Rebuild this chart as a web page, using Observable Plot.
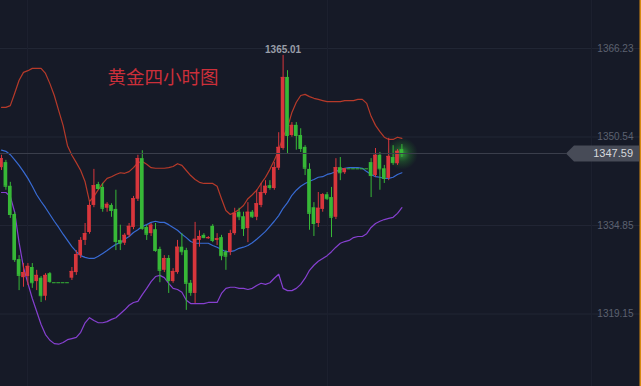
<!DOCTYPE html>
<html><head><meta charset="utf-8">
<script src="https://cdn.jsdelivr.net/npm/d3@7"></script>
<script src="https://cdn.jsdelivr.net/npm/@observablehq/plot@0.6"></script>
<style>html,body{margin:0;padding:0;background:#161a27;overflow:hidden}#chart{width:641px;height:386px}</style>
</head><body><div id="chart"></div>
<script>
const title = "黄金四小时图";
const open  = [1345.1,1346.0,1341.8,1336.8,1328.8,1325.6,1325.8,1327.4,1324.9,1325.5,1322.3,1326.3,1324.7,1324.7,1324.7,1324.7,1325.5,1326.5,1329.5,1332.2,1333.6,1338.4,1342.1,1341.6,1337.9,1338.4,1337.7,1332.2,1331.7,1333.1,1334.5,1339.5,1346.7,1334.5,1333.4,1334.1,1330.6,1326.9,1329.0,1324.9,1326.5,1331.0,1330.4,1324.6,1322.8,1332.2,1333.1,1332.5,1334.7,1332.2,1332.7,1330.1,1330.1,1333.4,1337.2,1336.4,1334.3,1337.2,1336.3,1338.4,1340.5,1341.9,1341.4,1345.0,1348.5,1361.1,1350.8,1352.6,1350.8,1348.7,1344.8,1338.0,1335.2,1337.7,1340.3,1339.8,1336.3,1345.1,1344.2,1344.9,1344.9,1344.9,1344.9,1344.9,1346.0,1343.7,1347.3,1344.9,1343.2,1346.9,1345.8,1348.3];
const high  = [1347.3,1346.4,1342.5,1337.2,1329.5,1328.1,1328.1,1328.1,1326.9,1325.8,1326.3,1326.5,1324.7,1324.7,1324.7,1324.7,1327.4,1330.4,1332.7,1335.2,1338.9,1344.8,1342.5,1342.3,1338.9,1338.7,1341.1,1334.9,1333.4,1335.2,1340.0,1347.3,1348.1,1334.9,1335.2,1335.2,1331.0,1329.5,1329.5,1327.2,1332.2,1333.4,1330.8,1325.1,1335.4,1333.9,1333.4,1332.9,1335.0,1333.4,1333.1,1330.4,1334.0,1337.9,1337.9,1337.2,1338.9,1337.5,1341.1,1342.3,1342.8,1342.8,1346.0,1351.3,1365.01,1362.3,1353.1,1353.1,1352.0,1349.0,1345.8,1338.9,1340.7,1340.5,1340.7,1341.6,1346.7,1346.9,1344.8,1344.9,1344.9,1344.9,1344.9,1344.9,1346.7,1348.5,1347.8,1345.5,1350.3,1349.0,1348.3,1349.2];
const low   = [1344.6,1341.1,1336.1,1328.3,1323.3,1323.9,1324.2,1323.7,1323.3,1321.2,1321.5,1324.6,1324.7,1324.7,1324.7,1324.7,1325.1,1326.0,1329.0,1331.3,1333.3,1338.0,1341.1,1337.2,1337.2,1336.3,1330.4,1330.4,1331.3,1332.7,1334.1,1339.1,1334.0,1332.2,1332.9,1330.1,1324.7,1326.5,1322.8,1324.6,1326.2,1329.5,1319.8,1322.3,1321.0,1331.0,1332.5,1332.4,1331.8,1331.3,1328.6,1326.9,1329.5,1333.1,1335.7,1332.9,1331.8,1336.1,1335.7,1338.0,1340.2,1341.1,1341.1,1344.6,1348.2,1347.6,1350.5,1348.2,1347.8,1343.7,1334.0,1332.9,1334.5,1337.2,1339.3,1332.7,1335.9,1342.8,1343.9,1344.9,1344.9,1344.9,1344.9,1344.9,1339.8,1343.4,1341.1,1342.3,1342.8,1345.5,1345.5,1346.9];
const close = [1346.7,1341.8,1336.8,1328.8,1326.0,1326.5,1327.6,1324.7,1326.0,1322.4,1326.0,1324.9,1324.7,1324.7,1324.7,1324.7,1326.7,1329.7,1332.2,1333.4,1338.4,1341.9,1341.4,1337.9,1338.6,1337.5,1332.0,1331.7,1333.1,1334.7,1339.6,1346.7,1334.3,1333.3,1334.9,1330.4,1326.9,1329.0,1325.1,1326.7,1331.0,1330.2,1324.6,1323.0,1332.4,1332.9,1332.7,1332.7,1332.2,1332.5,1329.5,1329.4,1333.4,1337.0,1336.4,1334.3,1337.2,1336.4,1338.7,1340.7,1341.8,1341.6,1345.1,1348.7,1361.1,1350.8,1352.6,1350.8,1348.5,1345.0,1337.0,1335.2,1337.9,1340.3,1339.6,1336.3,1345.1,1344.2,1344.9,1344.9,1344.9,1344.9,1344.9,1344.9,1343.7,1347.3,1344.9,1343.2,1347.1,1346.0,1348.0,1347.59];
const upper = [1355.8,1355.8,1356.1,1358.3,1360.6,1362.0,1362.3,1362.7,1362.7,1362.7,1361.8,1360.0,1357.9,1355.2,1352.6,1349.0,1347.3,1346.0,1344.6,1342.6,1339.1,1340.0,1341.2,1342.3,1343.2,1343.5,1343.9,1344.2,1344.1,1344.4,1345.1,1346.0,1346.2,1345.7,1345.1,1345.0,1345.0,1345.0,1345.1,1345.3,1345.8,1345.5,1344.6,1343.7,1343.0,1342.5,1342.3,1342.3,1342.3,1341.8,1339.6,1337.5,1336.8,1337.2,1337.7,1338.4,1339.6,1340.3,1341.1,1342.3,1343.4,1344.8,1346.4,1348.2,1350.6,1352.2,1354.9,1356.7,1357.9,1358.1,1357.7,1357.4,1357.2,1357.0,1356.8,1356.8,1356.8,1356.8,1357.0,1357.0,1357.0,1357.2,1357.2,1356.5,1354.2,1352.6,1351.5,1350.5,1350.1,1350.1,1350.5,1350.3];
const middle = [1348.2,1348.0,1347.4,1346.5,1345.5,1344.4,1343.2,1341.8,1340.3,1339.1,1338.0,1336.8,1335.6,1334.5,1333.3,1332.2,1331.1,1330.2,1329.5,1329.2,1329.0,1329.0,1329.4,1329.9,1330.4,1331.0,1331.5,1331.8,1332.4,1332.9,1333.6,1334.1,1334.7,1335.0,1335.4,1335.6,1335.4,1335.4,1335.0,1334.5,1334.0,1333.3,1332.7,1332.0,1331.7,1331.7,1331.7,1331.7,1331.3,1331.0,1330.6,1330.2,1330.2,1330.4,1330.8,1331.0,1331.3,1331.8,1332.4,1333.1,1333.8,1334.7,1335.6,1336.6,1337.9,1338.9,1340.2,1341.1,1341.8,1342.3,1342.7,1343.0,1343.4,1343.5,1343.9,1344.1,1344.4,1344.8,1345.0,1345.1,1345.1,1345.1,1345.0,1344.4,1343.9,1343.5,1343.4,1343.2,1343.2,1343.4,1343.9,1344.2];
const lower = [1340.7,1340.7,1340.0,1337.2,1331.8,1327.4,1324.6,1321.9,1319.6,1317.3,1315.5,1314.5,1313.9,1313.8,1314.1,1314.6,1314.8,1315.0,1315.9,1317.6,1318.5,1318.0,1317.6,1317.6,1317.8,1318.2,1318.5,1319.2,1319.9,1320.7,1321.2,1321.4,1322.6,1323.7,1324.9,1325.8,1326.0,1325.6,1324.6,1323.7,1323.5,1323.0,1321.6,1321.0,1321.0,1321.0,1321.0,1321.2,1321.2,1321.2,1322.8,1323.7,1323.9,1323.9,1323.7,1323.7,1323.5,1323.7,1324.2,1324.6,1324.4,1324.7,1325.5,1326.2,1323.7,1323.3,1323.3,1323.7,1324.4,1325.5,1326.9,1327.8,1328.5,1329.0,1329.5,1330.2,1331.0,1331.7,1332.0,1332.2,1332.7,1332.9,1332.9,1333.4,1334.5,1335.2,1335.6,1335.9,1336.1,1336.3,1337.0,1338.0];
const yTicks = [1366.23, 1350.54, 1334.85, 1319.15];
const xGrid = [5.9, 74.1, 134.1];
const lastPrice = 1347.59;

const candles = open.map((o, i) => ({i, o, h: high[i], l: low[i], c: close[i], up: close[i] > o}));
const peak = candles.reduce((a, b) => (b.h > a.h ? b : a));
const last = candles[candles.length - 1];
const RED = "#d8363c", GREEN = "#37b837";
const col = d => d.up ? RED : GREEN;

function priceTag(index, scales, values, dimensions) {
  const y = Math.round(scales.y(lastPrice)) + 0.5;
  const W = dimensions.width, H = dimensions.height;
  const x0 = W - 75;
  const g = d3.create("svg:g");
  g.append("line").attr("x1", 0).attr("x2", x0).attr("y1", y).attr("y2", y).attr("stroke", "#3a3e4b").attr("stroke-width", 1);
  g.append("path").attr("d", `M${x0},${y}L${x0 + 8},${y - 8}H${W - 2}V${y + 8}H${x0 + 8}Z`).attr("fill", "#474b57");
  g.append("text").attr("x", W - 8).attr("y", y).attr("dy", "0.36em").attr("text-anchor", "end")
    .attr("fill", "#d6d8dc").attr("font-size", 11).attr("font-family", "Liberation Sans, Arial, sans-serif").text(lastPrice.toFixed(2));
  g.append("line").attr("x1", W - 0.75).attr("x2", W - 0.75).attr("y1", 0).attr("y2", H).attr("stroke", "#d88a12").attr("stroke-width", 1.5);
  return g.node();
}

const chart = Plot.plot({
  width: 641, height: 386, margin: 0,
  style: {background: "#161a27", fontFamily: "Liberation Sans, Arial, sans-serif"},
  x: {domain: [-0.227, 145.45], axis: null},
  y: {domain: [1306.3, 1374.74], axis: null},
  marks: [
    Plot.ruleY(yTicks, {stroke: "#222735", strokeWidth: 1}),
    Plot.ruleX(xGrid, {stroke: "#1d2130", strokeWidth: 1}),
    Plot.text(yTicks, {y: d => d, text: d => d.toFixed(2), frameAnchor: "right", dx: -8, textAnchor: "end", fill: "#5c6170", fontSize: 10}),
    Plot.line(upper, {x: (d, i) => i, y: d => d, stroke: "#b63a2a", strokeWidth: 1.2}),
    Plot.line(middle, {x: (d, i) => i, y: d => d, stroke: "#386bd4", strokeWidth: 1.2}),
    Plot.line(lower, {x: (d, i) => i, y: d => d, stroke: "#8640d0", strokeWidth: 1.2}),
    Plot.dot([last], {x: "i", y: "c", r: 16, fill: "url(#glow)", stroke: "none"}),
    Plot.ruleX(candles, {x: "i", y1: "l", y2: "h", stroke: col, strokeWidth: 1}),
    Plot.rect(candles, {x1: d => d.i - 0.42, x2: d => d.i + 0.42, y1: d => Math.min(d.o, d.c), y2: d => Math.max(d.o, d.c), fill: col}),
    Plot.ruleY(candles, {y: "c", x1: d => d.i - 0.42, x2: d => d.i + 0.42, stroke: col, strokeWidth: 1}),
    Plot.text([peak], {x: "i", y: "h", text: d => d.h.toFixed(2), dy: -6, fill: "#9a9ea8", fontSize: 10, fontWeight: "bold"}),
    Plot.text([title], {frameAnchor: "top-left", dx: 107, dy: 70, text: d => d, fill: "#cc2f3a", fontSize: 18.5, fontFamily: "Noto Sans CJK SC", textAnchor: "start", lineAnchor: "top"}),
    priceTag
  ]
});

const defs = d3.select(chart).insert("defs", ":first-child");
const grad = defs.append("radialGradient").attr("id", "glow");
grad.append("stop").attr("offset", "0%").attr("stop-color", "#4dff4d").attr("stop-opacity", 0.55);
grad.append("stop").attr("offset", "50%").attr("stop-color", "#3ae03a").attr("stop-opacity", 0.2);
grad.append("stop").attr("offset", "100%").attr("stop-color", "#2bbf2b").attr("stop-opacity", 0);
document.getElementById("chart").appendChild(chart);
</script>
</body></html>
